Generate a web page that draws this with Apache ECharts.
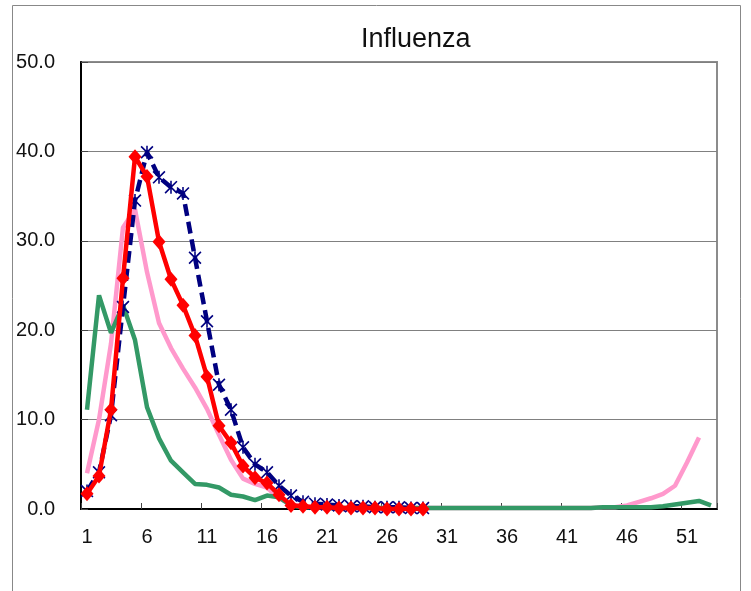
<!DOCTYPE html>
<html>
<head>
<meta charset="utf-8">
<script src="https://cdn.jsdelivr.net/npm/echarts@6/dist/echarts.min.js"></script>
<style>
html,body{margin:0;padding:0;background:#fff;}
#chart{width:751px;height:591px;}
</style>
</head>
<body>
<div id="chart"></div>
<script>
var weeks = ['1','2','3','4','5','6','7','8','9','10','11','12','13','14','15','16','17','18','19','20',
  '21','22','23','24','25','26','27','28','29','30','31','32','33','34','35','36','37','38','39','40',
  '41','42','43','44','45','46','47','48','49','50','51','52','53'];
var yTicks = [0, 10, 20, 30, 40, 50];

var seriesPink = [4.0, 10.0, 18.5, 31.5, 33.5, 26.5, 20.8, 18.0, 15.7, 13.6, 11.2, 8.3, 5.5, 3.4, 2.8, 2.4, 1.2, 0.5, 0.3, 0.2,
  0.2, 0.1, 0.1, 0.1, 0.1, 0.1, 0.1, 0.1, 0.1, 0.1, 0.1, 0.1, 0.1, 0.1, 0.1, 0.1, 0.1, 0.1, 0.1, 0.1,
  0.1, 0.1, 0.1, 0.2, 0.2, 0.4, 0.8, 1.2, 1.7, 2.6, 5.2, 8.0, null];
var seriesGreen = [11.1, 23.9, 19.7, 22.8, 18.9, 11.4, 7.9, 5.4, 4.1, 2.8, 2.7, 2.4, 1.6, 1.4, 1.0, 1.5, 1.3, 0.4, 0.2, 0.2,
  0.1, 0.1, 0.1, 0.1, 0.1, 0.1, 0.1, 0.1, 0.1, 0.1, 0.1, 0.1, 0.1, 0.1, 0.1, 0.1, 0.1, 0.1, 0.1, 0.1,
  0.1, 0.1, 0.1, 0.2, 0.2, 0.2, 0.2, 0.2, 0.3, 0.5, 0.7, 0.9, 0.4];
var seriesBlue = [2.0, 4.1, 10.5, 22.6, 34.5, 39.9, 37.1, 36.0, 35.3, 28.1, 21.0, 13.9, 11.1, 6.9, 5.0, 4.1, 2.6, 1.5, 0.8, 0.6,
  0.5, 0.4, 0.3, 0.3, 0.2, 0.2, 0.2, 0.1, 0.1];
var seriesRed = [1.7, 3.7, 11.1, 25.8, 39.4, 37.2, 29.9, 25.7, 22.8, 19.4, 14.8, 9.3, 7.4, 4.8, 3.5, 2.9, 1.6, 0.4, 0.3, 0.2,
  0.2, 0.1, 0.1, 0.1, 0.1, 0.0, 0.0, 0.0, 0.0];

var FONT = '"Liberation Sans", Arial, sans-serif';
var starPath = 'path://M4.4,0H5.6V10H4.4Z M0,0.9L0.9,0L10,9.1L9.1,10Z M9.1,0L10,0.9L0.9,10L0,9.1Z';

var chart = echarts.init(document.getElementById('chart'), null, {renderer: 'canvas'});
chart.setOption({
  animation: false,
  backgroundColor: '#fff',
  title: {
    text: 'Influenza',
    left: 356, top: 21,
    textStyle: {fontFamily: FONT, fontSize: 27, fontWeight: 'normal', color: '#111'}
  },
  graphic: [{
    type: 'rect', z: -10, silent: true,
    shape: {x: 12.5, y: 5.5, width: 728, height: 600},
    style: {fill: 'none', stroke: '#888', lineWidth: 1}
  }],
  grid: {
    left: 81, right: 34, top: 62, bottom: 82,
    show: true, borderColor: '#8c8c8c', borderWidth: 2, backgroundColor: '#fff'
  },
  xAxis: {
    type: 'category',
    data: weeks,
    boundaryGap: true,
    axisLine: {show: true, lineStyle: {color: '#000', width: 2}},
    axisTick: {show: true, inside: true, length: 6, interval: 4, lineStyle: {color: '#444', width: 1}},
    axisLabel: {interval: 4, margin: 18, fontFamily: FONT, fontSize: 20, color: '#111'},
    splitLine: {show: false}
  },
  yAxis: {
    type: 'value',
    min: yTicks[0], max: yTicks[yTicks.length - 1], interval: 10,
    axisLine: {show: true, lineStyle: {color: '#000', width: 2}},
    axisTick: {show: true, inside: true, length: 7, lineStyle: {color: '#444', width: 1}},
    axisLabel: {margin: 26, fontFamily: FONT, fontSize: 20, color: '#111', padding: [7, 0, 0, 0],
      formatter: function (v) { return v.toFixed(1); }},
    splitLine: {show: true, lineStyle: {color: '#808080', width: 1}}
  },
  series: [
    {
      name: 'pink', type: 'line', data: seriesPink, z: 2,
      showSymbol: false, symbol: 'none',
      lineStyle: {color: '#ff99cc', width: 4.5}
    },
    {
      name: 'green', type: 'line', data: seriesGreen, z: 3,
      showSymbol: false, symbol: 'none',
      lineStyle: {color: '#339966', width: 4.5}
    },
    {
      name: 'blue', type: 'line', data: seriesBlue, z: 4,
      symbol: starPath, symbolSize: 13, showAllSymbol: true,
      itemStyle: {color: '#000080'},
      lineStyle: {color: '#000080', width: 4.5, type: [12, 6]}
    },
    {
      name: 'red', type: 'line', data: seriesRed, z: 5,
      symbol: 'diamond', symbolSize: [13, 15], showAllSymbol: true,
      itemStyle: {color: '#ff0000'},
      lineStyle: {color: '#ff0000', width: 4.5}
    }
  ]
});
</script>
</body>
</html>
